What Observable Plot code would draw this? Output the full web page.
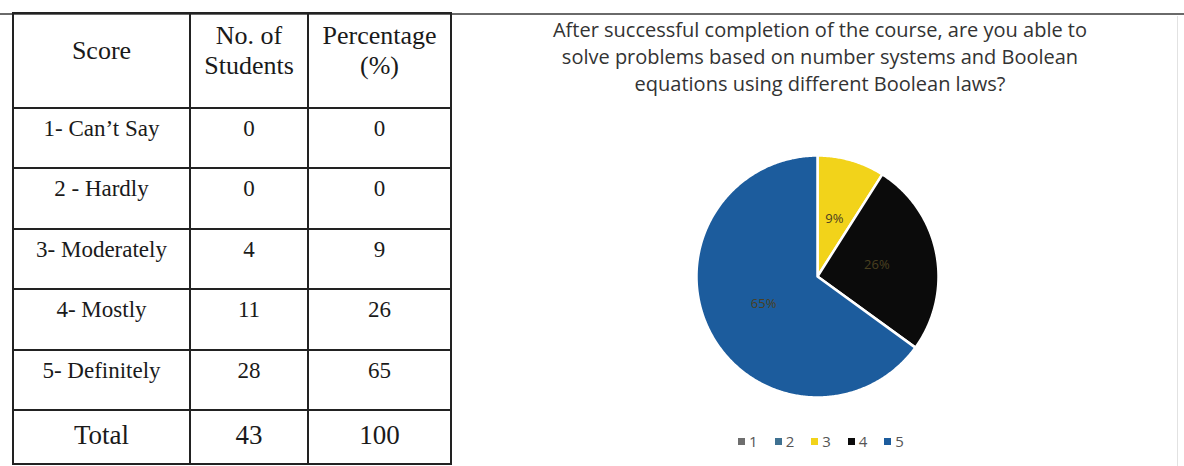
<!DOCTYPE html>
<html>
<head>
<meta charset="utf-8">
<script src="https://cdn.jsdelivr.net/npm/d3@7"></script>
<script src="https://cdn.jsdelivr.net/npm/@observablehq/plot@0.6"></script>
<style>
  html, body { margin: 0; padding: 0; background: #fff; }
  #page { position: relative; width: 1184px; height: 466px; overflow: hidden; background: #fff; }
  #rule { position: absolute; left: 0; top: 13px; width: 1184px; height: 2px; background: #6a6a6a; }
  #vrule { position: absolute; left: 1177px; top: 16px; width: 1px; height: 450px; background: #e2e2e2; }
  table.score { position: absolute; left: 12px; top: 12px; border-collapse: collapse; font-family: "Liberation Serif", "DejaVu Serif", serif; color: #1a1a1a; table-layout: fixed; }
  table.score td, table.score th { border: 2px solid #222; text-align: center; padding: 0; font-weight: normal; white-space: nowrap; }
  table.score th { font-size: 26px; line-height: 30px; vertical-align: middle; padding-bottom: 20px; }
  table.score td { font-size: 23px; line-height: 26px; vertical-align: top; padding-top: 7px; }
  table.score tr.total td { font-size: 27px; vertical-align: middle; padding-top: 0; padding-bottom: 4px; }
  #title { position: absolute; left: 470px; width: 700px; top: 16px; text-align: center; font-family: "Open Sans", sans-serif; font-size: 20px; line-height: 27px; color: #333; }
  #pie { position: absolute; left: 687px; top: 146px; }
  #legend { position: absolute; left: 680px; width: 282px; top: 431px; display: flex; justify-content: center; }
  .lg-swatches { font-family: "Open Sans", sans-serif !important; font-size: 15px !important; color: #555 !important; min-height: 20px !important; margin: 0 !important; }
  .lg-swatch { margin-right: 17px !important; }
  .lg-swatch:last-child { margin-right: 0 !important; }
  .lg-swatch > svg { margin-right: 4px !important; }
</style>
</head>
<body>
<div id="page">
  <div id="rule"></div>
  <div id="vrule"></div>
  <div id="tableHolder"></div>
  <div id="title"></div>
  <div id="pie"></div>
  <div id="legend"></div>
</div>
<script>
// ---- data ----
const scores = ["1- Can\u2019t Say", "2 - Hardly", "3- Moderately", "4- Mostly", "5- Definitely"];
const students = [0, 0, 4, 11, 28];
const percentages = [0, 0, 9, 26, 65];
const totalStudents = 43;
const totalPercentage = 100;
const headers = ["Score", "No. of<br>Students", "Percentage<br>(%)"];
const seriesLabels = ["1", "2", "3", "4", "5"];
const seriesColors = ["#6e6e6e", "#3f7191", "#f2d31a", "#0b0b0b", "#1c5c9d"];
const titleLines = [
  "After successful completion of the course, are you able to",
  "solve problems based on number systems and Boolean",
  "equations using different Boolean laws?"
];

// ---- table ----
const colWidths = [177, 118, 143];
const rowHeights = [95, 60, 61, 60, 61, 60, 54];
let html = '<table class="score"><colgroup>' + colWidths.map(w => `<col style="width:${w}px">`).join("") + '</colgroup>';
html += `<tr style="height:${rowHeights[0]}px">` + headers.map(h => `<th>${h}</th>`).join("") + '</tr>';
scores.forEach((s, i) => {
  html += `<tr style="height:${rowHeights[i + 1]}px"><td>${s}</td><td>${students[i]}</td><td>${percentages[i]}</td></tr>`;
});
html += `<tr class="total" style="height:${rowHeights[6]}px"><td>Total</td><td>${totalStudents}</td><td>${totalPercentage}</td></tr>`;
html += '</table>';
document.getElementById("tableHolder").innerHTML = html;

// ---- title ----
document.getElementById("title").innerHTML = titleLines.join("<br>");

// ---- pie (polygons built from the percentages, drawn through Plot x/y scales) ----
const slices = [];
const labels = [];
let cum = 0;
const total = d3.sum(percentages);
percentages.forEach((v, i) => {
  const a0 = cum / total * 2 * Math.PI;
  cum += v;
  const a1 = cum / total * 2 * Math.PI;
  if (v <= 0) return;
  const n = Math.max(2, Math.ceil((a1 - a0) / 0.01));
  slices.push({series: seriesLabels[i], x: 0, y: 0});
  for (let k = 0; k <= n; ++k) {
    const a = a0 + (a1 - a0) * k / n;
    slices.push({series: seriesLabels[i], x: Math.sin(a), y: Math.cos(a)});
  }
  const am = (a0 + a1) / 2;
  labels.push({series: seriesLabels[i], x: 0.5 * Math.sin(am), y: 0.5 * Math.cos(am), text: v + "%"});
});

const colorScale = {type: "ordinal", domain: seriesLabels, range: seriesColors};
const lim = 130 / 121;
const pie = Plot.plot({
  width: 260,
  height: 260,
  margin: 0,
  x: {domain: [-lim, lim], axis: null},
  y: {domain: [-lim, lim], axis: null},
  color: colorScale,
  marks: [
    Plot.line(slices, {x: "x", y: "y", z: "series", fill: "series", stroke: "#fff", strokeWidth: 2.5, strokeLinejoin: "round", curve: "linear-closed"}),
    Plot.text(labels, {x: "x", y: "y", text: "text", fill: "#4a4020", fontSize: 13, fontFamily: "Open Sans, sans-serif"})
  ]
});
document.getElementById("pie").appendChild(pie);

// ---- legend ----
const legend = Plot.legend({color: colorScale, swatchSize: 7, className: "lg"});
document.getElementById("legend").appendChild(legend);
</script>
</body>
</html>
